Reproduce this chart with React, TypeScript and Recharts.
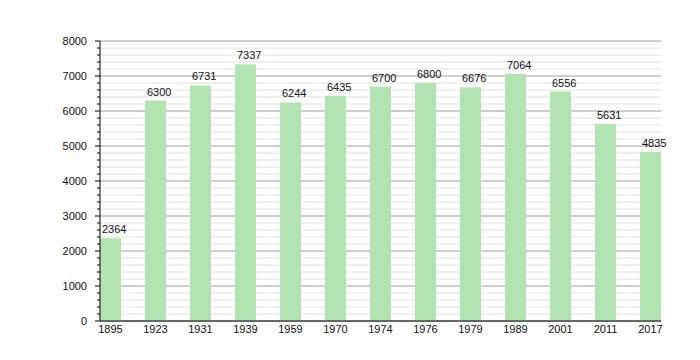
import { BarChart, Bar, XAxis, YAxis, CartesianGrid, LabelList } from "recharts";

const years = ["1895", "1923", "1931", "1939", "1959", "1970", "1974", "1976", "1979", "1989", "2001", "2011", "2017"];
const population = [2364, 6300, 6731, 7337, 6244, 6435, 6700, 6800, 6676, 7064, 6556, 5631, 4835];
const majorTicks = [0, 1000, 2000, 3000, 4000, 5000, 6000, 7000, 8000];
const minorStep = 200;
const minorTicks = Array.from({ length: 8000 / minorStep + 1 }, (_, i) => i * minorStep);

const data = years.map((year, i) => ({ year, value: population[i] }));

const font = "'Liberation Sans', Arial, sans-serif";

const YTick = (props: any) => {
  const { x, y, payload } = props;
  const isMajor = payload.value % 1000 === 0;
  return (
    <g>
      <line x1={x + (isMajor ? 8 : 10)} x2={x + 13} y1={y} y2={y} stroke="#000" />
      {isMajor && (
        <text x={x} y={y} dy="0.355em" textAnchor="end" fontSize={11} fill="#111" fontFamily={font}>
          {payload.value}
        </text>
      )}
    </g>
  );
};

const ValueLabel = (props: any) => {
  const { x, y, value } = props;
  return (
    <text x={x + 2} y={y - 5} fontSize={11} fill="#111" fontFamily={font}>
      {value}
    </text>
  );
};

const App = () => {
  return (
    <div style={{ position: "absolute", left: 0, top: 0, background: "#fff" }}>
      <BarChart
        width={700}
        height={360}
        data={data}
        margin={{ top: 41, right: 39, bottom: 9, left: 0 }}
        barCategoryGap={12}
      >
        <CartesianGrid vertical={false} horizontalValues={minorTicks} stroke="#e2e2e2" />
        <CartesianGrid vertical={false} horizontalValues={majorTicks} stroke="#aaaaaa" />
        <XAxis
          dataKey="year"
          height={30}
          padding={{ left: -12, right: -12 }}
          tickLine={false}
          tickSize={0}
          tickMargin={4}
          axisLine={{ stroke: "#000" }}
          tick={{ fontSize: 11, fill: "#111", fontFamily: font }}
          interval={0}
        />
        <YAxis
          width={100}
          domain={[0, 8000]}
          ticks={minorTicks}
          interval={0}
          tickLine={false}
          tickSize={5}
          tickMargin={8}
          axisLine={{ stroke: "#000" }}
          tick={<YTick />}
        />
        <Bar dataKey="value" fill="#b1e4b1" isAnimationActive={false}>
          <LabelList dataKey="value" content={<ValueLabel />} />
        </Bar>
      </BarChart>
    </div>
  );
};

export default App;
